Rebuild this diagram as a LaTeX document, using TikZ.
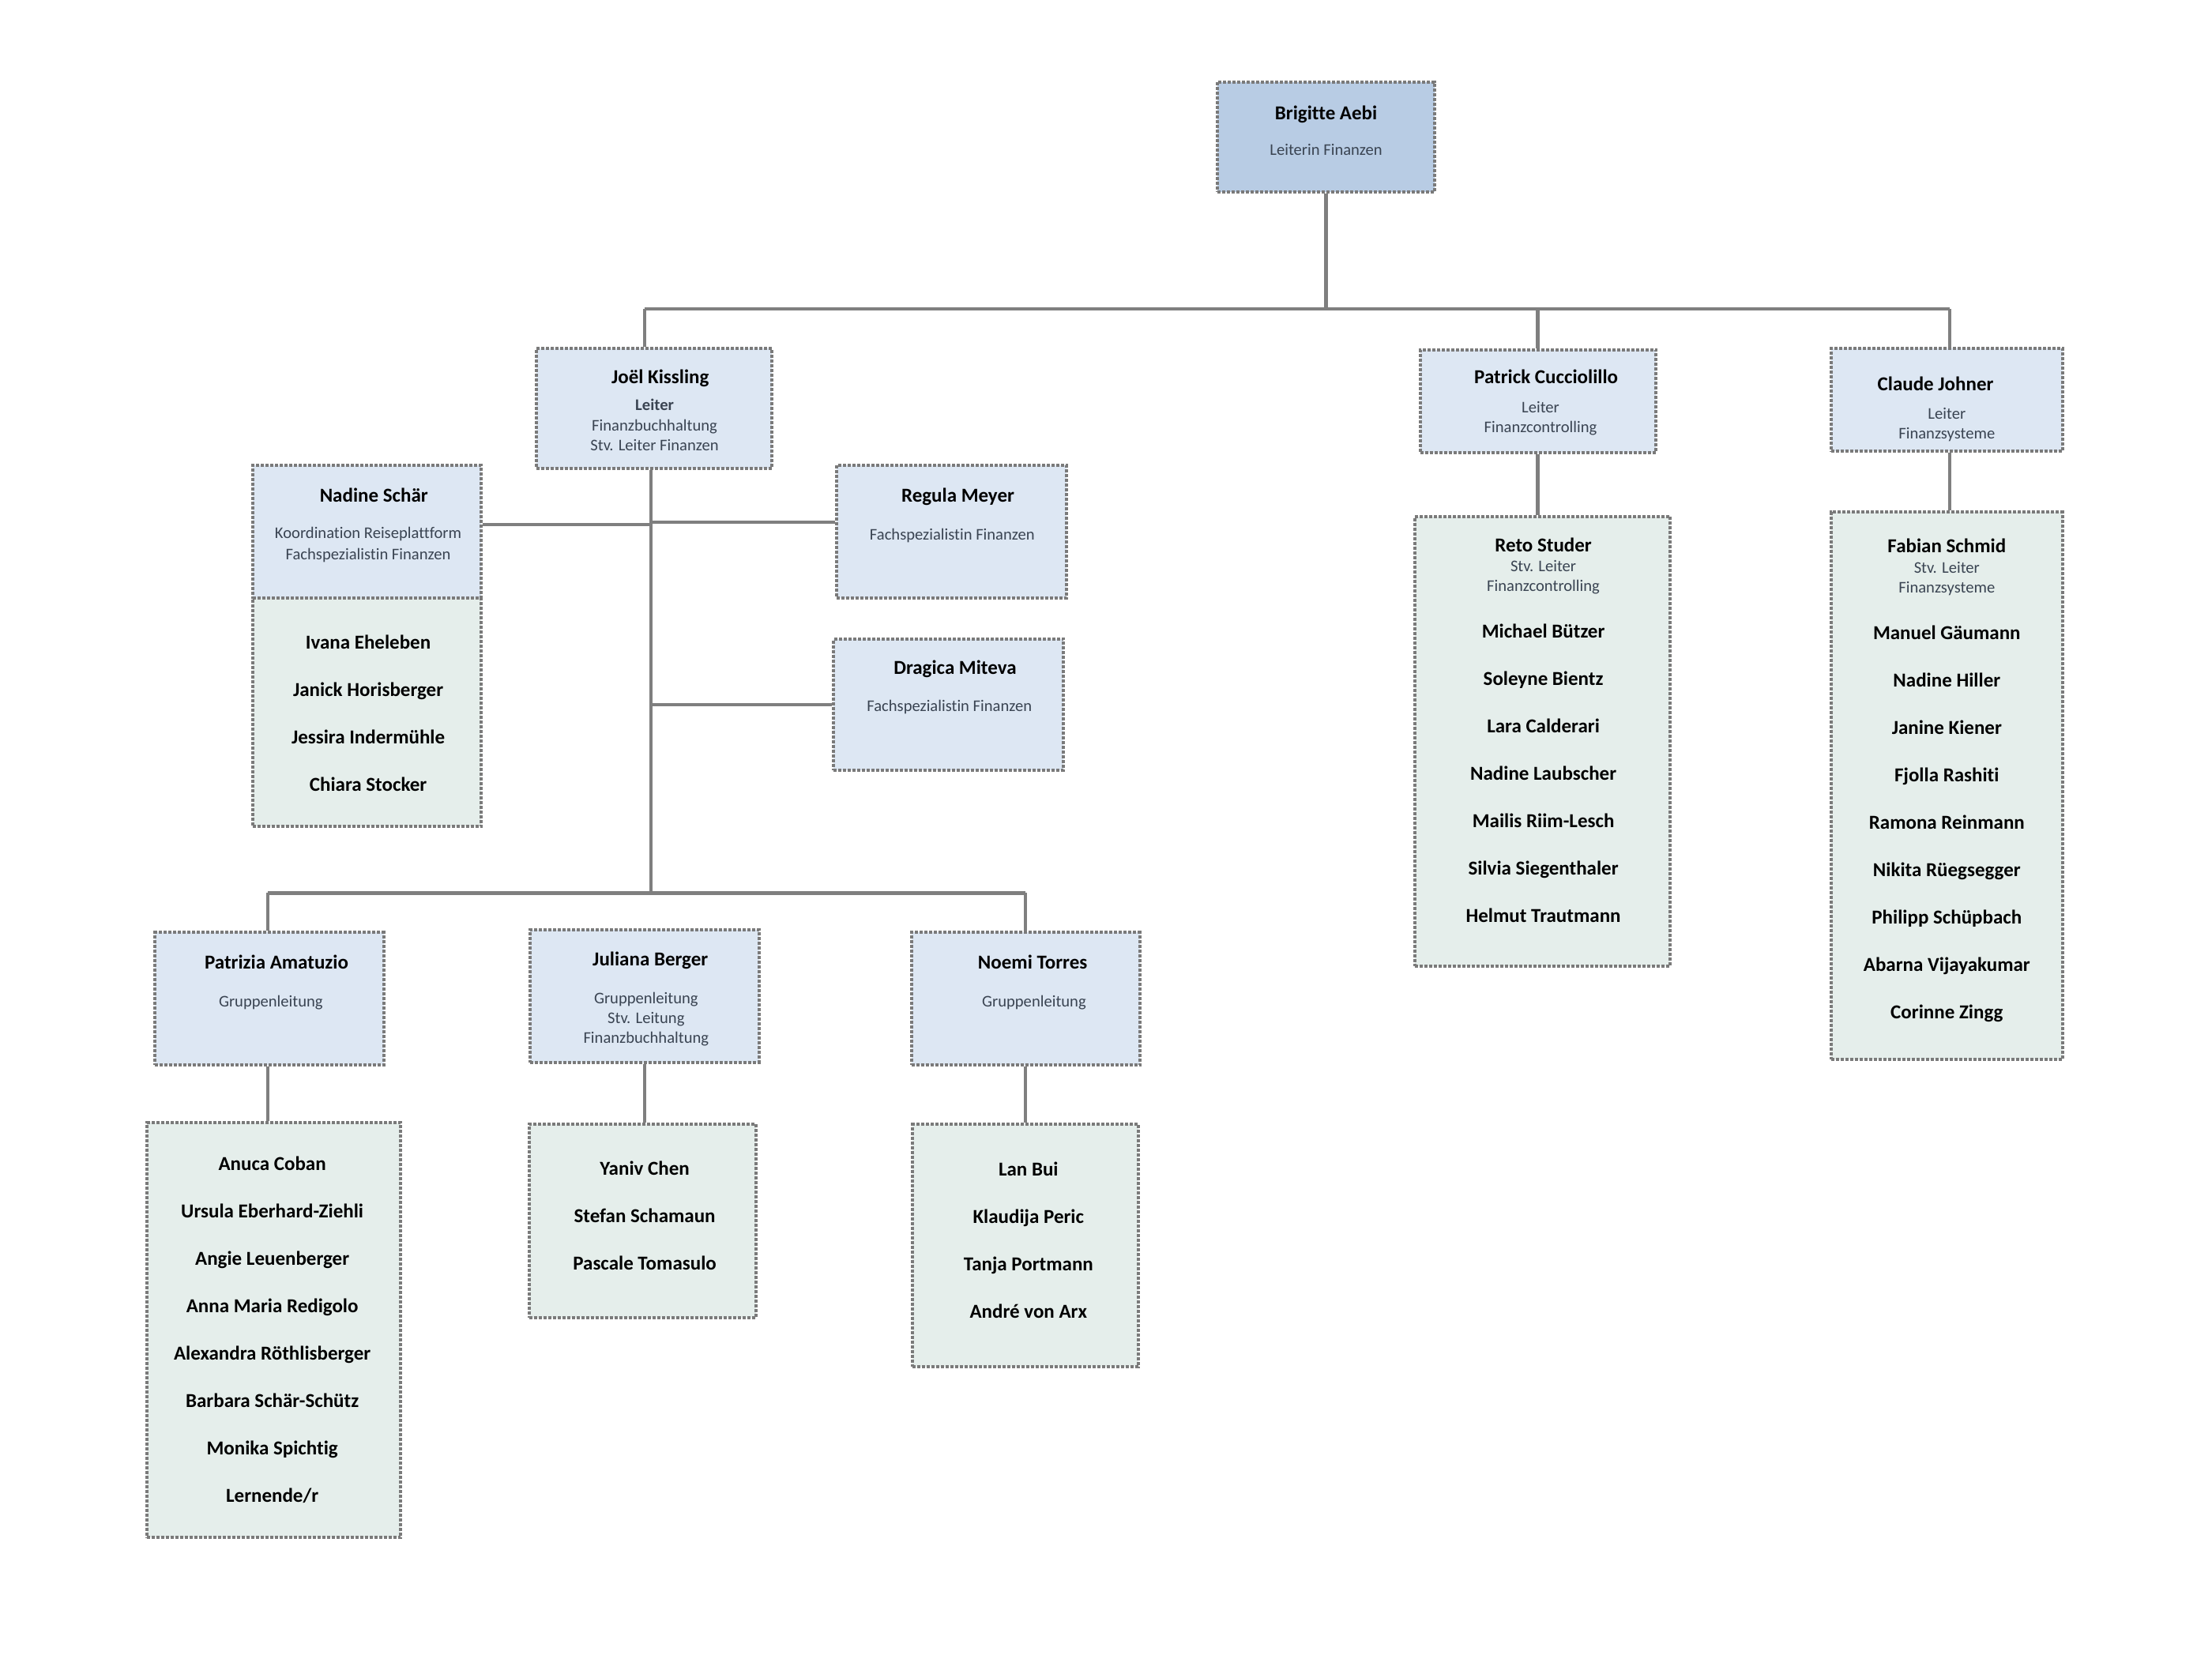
\documentclass[tikz,border=0pt]{standalone}
\usepackage{fontspec}
\setmainfont{Carlito}[Ligatures={NoCommon}]
\usetikzlibrary{fit}
\definecolor{bordergray}{HTML}{7A7A7A}
\definecolor{conncol}{HTML}{7F7F7F}
\definecolor{topblue}{HTML}{B8CCE4}
\definecolor{lightblue}{HTML}{DDE7F3}
\definecolor{lightgreen}{HTML}{E5EEEB}
\definecolor{subcol}{HTML}{3A4452}
\newcommand\nmfont{\fontsize{12.5}{15}\selectfont\bfseries}
\newcommand\sbfont{\fontsize{10.3}{12.5}\selectfont}
\begin{document}
\begin{tikzpicture}[x=0.89286pt, y=-0.89286pt,
  boxbase/.style={draw=bordergray, line width=2pt, dash pattern=on 2pt off 1pt, inner sep=0pt, rectangle},
  topbox/.style={boxbase, fill=topblue},
  bluebox/.style={boxbase, fill=lightblue},
  greenbox/.style={boxbase, fill=lightgreen},
  conn/.style={draw=conncol, line width=2.2pt},
  nm/.style={font=\nmfont, anchor=base, inner sep=0pt},
  sb/.style={font=\sbfont, text=subcol, anchor=base, inner sep=0pt},
  sbb/.style={font=\sbfont\bfseries, text=subcol, anchor=base, inner sep=0pt}]
\useasboundingbox (0,0) rectangle (1568,1176);

% ---------- boxes ----------
\node[topbox, fit={(863,58) (1017,136)}] (aebi) {};
\node[bluebox, fit={(380,247) (547,332)}] (joel) {};
\node[bluebox, fit={(1007,248) (1174,321)}] (patrick) {};
\node[bluebox, fit={(1298,247) (1462,320)}] (claude) {};
\node[greenbox, fit={(179,424) (341,586)}] (nsteam) {};
\node[bluebox, fit={(179,330) (341,424)}] (nadine) {};
\node[bluebox, fit={(593,330) (756,424)}] (regula) {};
\node[bluebox, fit={(591,453) (754,546)}] (dragica) {};
\node[greenbox, fit={(1003,366) (1184,685)}] (rsteam) {};
\node[greenbox, fit={(1298,363) (1462,751)}] (fsteam) {};
\node[bluebox, fit={(110,661) (272,755)}] (patrizia) {};
\node[bluebox, fit={(376,659) (538,753)}] (juliana) {};
\node[bluebox, fit={(646,661) (808,755)}] (noemi) {};
\node[greenbox, fit={(104,796) (284,1090)}] (amteam) {};
\node[greenbox, fit={(375,797) (536,934)}] (bgteam) {};
\node[greenbox, fit={(647,797) (807,969)}] (trteam) {};

% ---------- connectors ----------
\coordinate (busL) at (457,219);
\coordinate (busR) at (1382,219);
\coordinate (busP) at (1090,219);
\coordinate (jv) at (461.5,633);
\coordinate (jn) at (461.5,372);
\coordinate (jr) at (461.5,370);
\coordinate (jd) at (461.5,499.5);
\coordinate (bbL) at (190,633);
\coordinate (bbR) at (727,633);

\draw[conn] (aebi.south) -- (aebi.south |- busL);
\draw[conn] (busL) -- (busR);
\draw[conn] (busL) -- (busL |- joel.north);
\draw[conn] (busP) -- (busP |- patrick.north);
\draw[conn] (busR) -- (busR |- claude.north);
\draw[conn] (jv |- joel.south) -- (jv);
\draw[conn] (nadine.east |- jn) -- (jn);
\draw[conn] (jr) -- (regula.west |- jr);
\draw[conn] (jd) -- (dragica.west);
\draw[conn] (bbL) -- (bbR);
\draw[conn] (bbL) -- (bbL |- patrizia.north);
\draw[conn] (bbR) -- (bbR |- noemi.north);
\draw[conn] (bbL |- patrizia.south) -- (bbL |- amteam.north);
\draw[conn] (juliana.south) -- (juliana.south |- bgteam.north);
\draw[conn] (bbR |- noemi.south) -- (bbR |- trteam.north);
\draw[conn] (busP |- patrick.south) -- (busP |- rsteam.north);
\draw[conn] (busR |- claude.south) -- (busR |- fsteam.north);

% ---------- texts ----------
\node[nm] (aebi-n) at (940,84.6) {Brigitte Aebi};
\node[sb] (aebi-s) at (940,109.8) {Leiterin Finanzen};

\node[nm] (joel-n) at (468,272) {Joël Kissling};
\node[sbb] (joel-s1) at (464,291) {Leiter};
\node[sb] (joel-s2) at (464,305.2) {Finanzbuchhaltung};
\node[sb] (joel-s3) at (464,319.2) {Stv. Leiter Finanzen};

\node[nm] (patrick-n) at (1096,272) {Patrick Cucciolillo};
\node[sb] (patrick-s1) at (1092,292.5) {Leiter};
\node[sb] (patrick-s2) at (1092,306.5) {Finanzcontrolling};

\node[nm] (claude-n) at (1372,277) {Claude Johner};
\node[sb] (claude-s1) at (1380,297) {Leiter};
\node[sb] (claude-s2) at (1380,311.3) {Finanzsysteme};

\node[nm] (nadine-n) at (265,355.6) {Nadine Schär};
\node[sb] (nadine-s1) at (261,381.7) {Koordination Reiseplattform};
\node[sb] (nadine-s2) at (261,396.7) {Fachspezialistin Finanzen};
\foreach \t [count=\i] in {Ivana Eheleben, Janick Horisberger, Jessira Indermühle, Chiara Stocker}
  \node[nm] (ns\i) at (261,{460.2+(\i-1)*33.6}) {\t};

\node[nm] (regula-n) at (679,355.6) {Regula Meyer};
\node[sb] (regula-s) at (675,382.6) {Fachspezialistin Finanzen};

\node[nm] (dragica-n) at (677,477.8) {Dragica Miteva};
\node[sb] (dragica-s) at (673,504.5) {Fachspezialistin Finanzen};

\node[nm] (rs-n) at (1094,390.9) {Reto Studer};
\node[sb] (rs-s1) at (1094,405) {Stv. Leiter};
\node[sb] (rs-s2) at (1094,419.4) {Finanzcontrolling};
\foreach \t [count=\i] in {Michael Bützer, Soleyne Bientz, Lara Calderari, Nadine Laubscher, Mailis Riim-Lesch, Silvia Siegenthaler, Helmut Trautmann}
  \node[nm] (rs\i) at (1094,{452.3+(\i-1)*33.55}) {\t};

\node[nm] (fs-n) at (1380,391.5) {Fabian Schmid};
\node[sb] (fs-s1) at (1380,406) {Stv. Leiter};
\node[sb] (fs-s2) at (1380,420.3) {Finanzsysteme};
\foreach \t [count=\i] in {Manuel Gäumann, Nadine Hiller, Janine Kiener, Fjolla Rashiti, Ramona Reinmann, Nikita Rüegsegger, Philipp Schüpbach, Abarna Vijayakumar, Corinne Zingg}
  \node[nm] (fs\i) at (1380,{453.3+(\i-1)*33.6}) {\t};

\node[nm] (patrizia-n) at (196,686.8) {Patrizia Amatuzio};
\node[sb] (patrizia-s) at (192,713.5) {Gruppenleitung};

\node[nm] (juliana-n) at (461,684.8) {Juliana Berger};
\node[sb] (juliana-s1) at (458,711.5) {Gruppenleitung};
\node[sb] (juliana-s2) at (458,725.5) {Stv. Leitung};
\node[sb] (juliana-s3) at (458,739.5) {Finanzbuchhaltung};

\node[nm] (noemi-n) at (732,686.8) {Noemi Torres};
\node[sb] (noemi-s) at (733,713.5) {Gruppenleitung};

\foreach \t [count=\i] in {Anuca Coban, Ursula Eberhard-Ziehli, Angie Leuenberger, Anna Maria Redigolo, Alexandra Röthlisberger, Barbara Schär-Schütz, Monika Spichtig, Lernende/r}
  \node[nm] (am\i) at (193,{829.8+(\i-1)*33.6}) {\t};

\foreach \t [count=\i] in {Yaniv Chen, Stefan Schamaun, Pascale Tomasulo}
  \node[nm] (bg\i) at (457,{832.8+(\i-1)*33.6}) {\t};

\foreach \t [count=\i] in {Lan Bui, Klaudija Peric, Tanja Portmann, André von Arx}
  \node[nm] (tr\i) at (729,{833.8+(\i-1)*33.6}) {\t};
\end{tikzpicture}
\end{document}
